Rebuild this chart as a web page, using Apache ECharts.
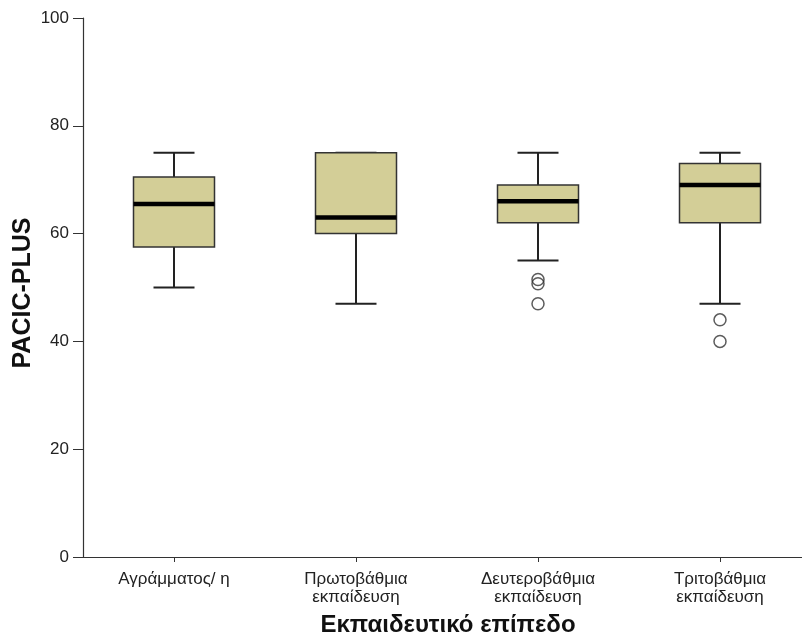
<!DOCTYPE html>
<html>
<head>
<meta charset="utf-8">
<script src="https://cdn.jsdelivr.net/npm/echarts@6/dist/echarts.min.js"></script>
<style>
html,body{margin:0;padding:0;background:#fff;overflow:hidden;width:802px;height:640px;}
#c{width:811px;height:640px;}
</style>
</head>
<body>
<div id="c"></div>
<script>
var categories = ['Αγράμματος/ η', 'Πρωτοβάθμια\nεκπαίδευση', 'Δευτεροβάθμια\nεκπαίδευση', 'Τριτοβάθμια\nεκπαίδευση'];
var lowWhisker = [50, 47, 55, 47];
var q1 = [57.5, 60, 62, 62];
var median = [65.5, 63, 66, 69];
var q3 = [70.5, 75, 69, 73];
var highWhisker = [75, 75, 75, 75];
var outlierCategory = [2, 2, 2, 3, 3];
var outlierValue = [51.5, 50.7, 47, 44, 40];
var yTicks = [0, 20, 40, 60, 80, 100];

var boxData = categories.map(function (c, i) {
  return [i, lowWhisker[i], q1[i], median[i], q3[i], highWhisker[i]];
});
var outlierData = outlierValue.map(function (v, i) { return [outlierCategory[i], v]; });

var FONT = '"Liberation Sans", Arial, sans-serif';
var chart = echarts.init(document.getElementById('c'), null, {renderer: 'canvas'});

function renderBox(params, api) {
  var idx = api.value(0);
  var pLow = api.coord([idx, api.value(1)]);
  var pQ1 = api.coord([idx, api.value(2)]);
  var pMed = api.coord([idx, api.value(3)]);
  var pQ3 = api.coord([idx, api.value(4)]);
  var pHigh = api.coord([idx, api.value(5)]);
  var x = pLow[0];
  var bw = 81, cw = 41;
  var lineStyle = {stroke: '#222', lineWidth: 2, fill: null};
  return {
    type: 'group',
    children: [
      {type: 'line', shape: {x1: x, y1: pLow[1], x2: x, y2: pQ1[1]}, style: lineStyle},
      {type: 'line', shape: {x1: x, y1: pQ3[1], x2: x, y2: pHigh[1]}, style: lineStyle},
      {type: 'line', shape: {x1: x - cw / 2, y1: pLow[1], x2: x + cw / 2, y2: pLow[1]}, style: lineStyle},
      {type: 'line', shape: {x1: x - cw / 2, y1: pHigh[1], x2: x + cw / 2, y2: pHigh[1]}, style: lineStyle},
      {type: 'rect', shape: {x: x - bw / 2, y: pQ3[1], width: bw, height: pQ1[1] - pQ3[1]},
        style: {fill: '#D3CE97', stroke: '#333', lineWidth: 1.5}},
      {type: 'line', shape: {x1: x - bw / 2, y1: pMed[1], x2: x + bw / 2, y2: pMed[1]},
        style: {stroke: '#000', lineWidth: 4.5}}
    ]
  };
}

chart.setOption({
  animation: false,
  backgroundColor: '#fff',
  grid: {left: 83, top: 18, right: 0, bottom: 83, containLabel: false},
  xAxis: {
    type: 'category',
    data: categories,
    boundaryGap: true,
    axisLine: {show: true, lineStyle: {color: '#333', width: 1.2}},
    axisTick: {show: true, alignWithLabel: true, length: 5, lineStyle: {color: '#333'}},
    axisLabel: {fontFamily: FONT, fontSize: 17, color: '#222', margin: 13, lineHeight: 18, interval: 0},
    splitLine: {show: false}
  },
  yAxis: {
    type: 'value',
    min: yTicks[0],
    max: yTicks[yTicks.length - 1],
    interval: 20,
    axisLine: {show: true, lineStyle: {color: '#333', width: 1.2}},
    axisTick: {show: true, length: 10, lineStyle: {color: '#333'}},
    axisLabel: {fontFamily: FONT, fontSize: 17, color: '#222', margin: 14},
    splitLine: {show: false}
  },
  graphic: [
    {type: 'text', x: 23, y: 293, rotation: Math.PI / 2,
      style: {text: 'PACIC-PLUS', font: 'bold 25px ' + FONT, fill: '#111', textAlign: 'center', textVerticalAlign: 'middle'}},
    {type: 'text', x: 448, y: 625,
      style: {text: 'Εκπαιδευτικό επίπεδο', font: 'bold 24px ' + FONT, fill: '#111', textAlign: 'center', textVerticalAlign: 'middle'}}
  ],
  series: [
    {
      type: 'custom',
      renderItem: renderBox,
      data: boxData,
      encode: {x: 0, y: [1, 2, 3, 4, 5]},
      z: 2
    },
    {
      type: 'scatter',
      data: outlierData,
      symbol: 'circle',
      symbolSize: 12,
      itemStyle: {color: 'rgba(255,255,255,0)', borderColor: '#333', borderWidth: 1.5},
      z: 3
    }
  ]
});
</script>
</body>
</html>
